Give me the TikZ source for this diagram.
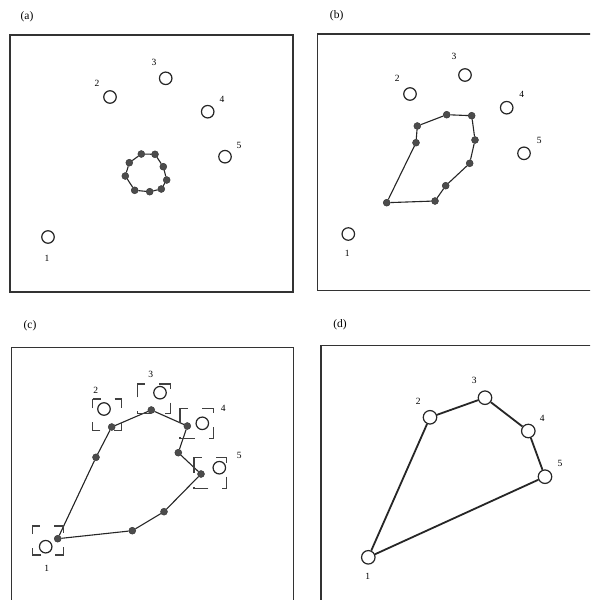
\documentclass[tikz,border=0pt]{standalone}
\usepackage{fontspec}
\setmainfont{Liberation Serif}
\begin{document}
\begin{tikzpicture}[x=1pt,y=-1pt,
  frame/.style={draw=black!80,line width=1.4pt},
  site/.style={circle,draw=black!85,fill=white,line width=1.2pt,minimum size=12.5pt,inner sep=0pt},
  bigsite/.style={site,minimum size=13.5pt},
  bead/.style={circle,fill=black!70,draw=black!80,line width=0.4pt,minimum size=7pt,inner sep=0pt},
  snake/.style={draw=black!85,line width=1.1pt},
  tour/.style={draw=black!85,line width=1.8pt},
  num/.style={font=\fontsize{9.5}{10}\selectfont,inner sep=0pt},
  tag/.style={font=\fontsize{11.5}{12}\selectfont,inner sep=0pt},
  window/.style={draw=black!75,line width=1.1pt,dash pattern=on 8pt off 14pt on 8pt off 0pt}]
\useasboundingbox (0,0) rectangle (590,600);
\clip (0,0) rectangle (590,600);
\fill[white] (0,0) rectangle (590,600);

% ---------------- (a) ----------------
\node[tag] (ta) at (27,17) {(a)};
\draw[frame] (10,35) rectangle (293,292);
\foreach \i/\x/\y in {1/141.3/154,2/155/154.3,3/163.3/166.7,4/166.7/180,5/161.3/189,6/149.7/191.7,7/134.7/190.3,8/125.3/176,9/129.3/162.7}
  \node[bead] (a\i) at (\x,\y) {};
\foreach \i/\j in {1/2,2/3,3/4,4/5,5/6,6/7,7/8,8/9,9/1}
  \draw[snake] (a\i) -- (a\j);
\foreach \i/\x/\y/\lx/\ly in {1/48/237/47/258,2/110/97/97/83,3/165.7/78.3/154/62,4/207.7/111.7/222/99,5/225/156.7/239/145}{
  \node[site] (pa\i) at (\x,\y) {};
  \node[num] (la\i) at (\lx,\ly) {\i};
}

% ---------------- (b) ----------------
\node[tag] (tb) at (336.7,16) {(b)};
\draw[frame] (317.7,34) rectangle (600,290.7);
\foreach \i/\x/\y in {1/386.7/202.7,2/416/142.7,3/417.3/126,4/446.7/114.7,5/471.7/115.7,6/475/140,7/469.7/163.3,8/445.7/185.7,9/435/201}
  \node[bead] (b\i) at (\x,\y) {};
\foreach \i/\j in {1/2,2/3,3/4,4/5,5/6,6/7,7/8,8/9,9/1}
  \draw[snake] (b\i) -- (b\j);
\foreach \i/\x/\y/\lx/\ly in {1/348.3/234/347.3/253.3,2/410/94/397.3/78.3,3/465/75/454/56.7,4/506.7/107.7/521.7/94.3,5/524/153.3/539.3/140.7}{
  \node[site] (pb\i) at (\x,\y) {};
  \node[num] (lb\i) at (\lx,\ly) {\i};
}

% ---------------- (c) ----------------
\node[tag] (tc) at (30,326) {(c)};
\draw[frame] (11.7,605) |- (293.3,347.7) -- (293.3,605);
\foreach \i/\x/\y in {1/57.7/538.7,2/96/457.3,3/111.7/427,4/151.3/410,5/187.3/426,6/178.3/452.7,7/201/474,8/164/511.7,9/132.3/530.7}
  \node[bead] (c\i) at (\x,\y) {};
\foreach \i/\j in {1/2,2/3,3/4,4/5,5/6,6/7,7/8,8/9,9/1}
  \draw[snake] (c\i) -- (c\j);
\foreach \i/\x/\y/\lx/\ly/\ax/\ay/\bx/\by in {
    1/45.7/546.7/46.7/568.3/32.3/526/63.3/555,
    2/104/409/95.7/390/92.7/399/121.7/430.7,
    3/160/392.7/150.7/374/137.3/384/170.7/413.3,
    4/202.3/423.3/223.3/408.3/180/408.3/213.3/438.3,
    5/219.3/467.7/239.3/455/194/457.3/226.7/488.3}{
  \node[site] (pc\i) at (\x,\y) {};
  \node[num] (lc\i) at (\lx,\ly) {\i};
  \draw[window] (\ax,\ay) -- (\bx,\ay) -- (\bx,\by) -- (\ax,\by) -- cycle;
}

% ---------------- (d) ----------------
\node[tag] (td) at (340,325) {(d)};
\draw[frame] (321,605) |- (600,345.7);
\foreach \i/\x/\y/\lx/\ly in {1/368.3/557.3/367.7/576.7,2/430/417.3/418.3/401,3/485/397.7/474.3/380,4/528.3/431/542.3/418.3,5/545/476.7/560/463.3}{
  \node[bigsite] (pd\i) at (\x,\y) {};
  \node[num] (ld\i) at (\lx,\ly) {\i};
}
\foreach \i/\j in {1/2,2/3,3/4,4/5,5/1}
  \draw[tour] (pd\i) -- (pd\j);
\end{tikzpicture}
\end{document}
